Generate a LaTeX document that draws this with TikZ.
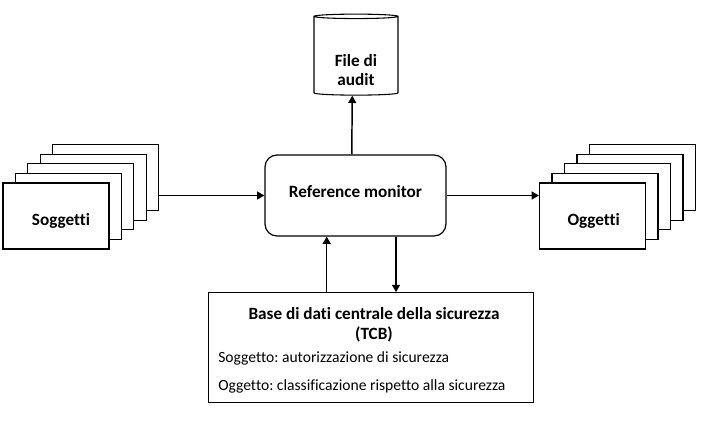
\documentclass[tikz,border=0pt]{standalone}
\usepackage{fontspec}
\setmainfont{Carlito}[Ligatures=NoCommon]
\frenchspacing
\usetikzlibrary{arrows.meta,shapes.geometric}

\tikzset{
  card/.style={draw, fill=white, line width=0.8pt, minimum width=79.5pt, minimum height=49.5pt},
  monitor/.style={draw, rounded corners=9pt, line width=0.9pt, minimum width=135.75pt, minimum height=60.75pt, font=\boldtext, text height=6pt, text depth=3.3pt},
  arrow/.style={line width=1.1pt, -{Triangle[length=5.5pt,width=6pt]}},
  boldrow/.style={anchor=base, inner sep=0pt, font=\boldtext},
  rowtext/.style={anchor=base west, inner sep=0pt, font=\fontsize{11.7}{14}\selectfont}
}
\newcommand{\boldtext}{\fontsize{12.9}{15}\selectfont\bfseries}

\begin{document}
\begin{tikzpicture}[x=0.75pt, y=-0.75pt]
\useasboundingbox (0,0) rectangle (708,421);

% stacks of subjects and objects
\foreach \i in {4,3,2,1,0} {
  \node[card] (sog\i) at ({56+12.4*\i}, {216-9.6*\i}) {};
  \node[card] (ogg\i) at ({592.5+12.5*\i}, {216-9.6*\i}) {};
}
\node[boldrow] (sogtext) at (61,225) {Soggetti};
\node[boldrow] (oggtext) at (593.7,225) {Oggetti};

\node[monitor] (refmon) at (355.5,195.5) {Reference monitor};

\node[cylinder, draw, line width=0.8pt, shape border rotate=90, aspect=0.5, minimum width=63pt, minimum height=60.75pt] (audit) at (356,56.5) {};
\node[boldrow] (audittop) at (356,66.7) {File di};
\node[boldrow] (auditbot) at (356,85) {audit};

% central security database
\node[draw, line width=0.9pt, minimum width=243.75pt, minimum height=82.5pt] (tcb) at (370.8,347.7) {};
\node[boldrow] (tcbtitle) at (374,319.3) {Base di dati centrale della sicurezza};
\node[boldrow] (tcbname) at (374,339.3) {(TCB)};
\node[rowtext] (subjrow) at (218,362.7) {Soggetto: autorizzazione di sicurezza};
\node[rowtext] (objrow) at (218,390.7) {Oggetto: classificazione rispetto alla sicurezza};

\draw[arrow] (refmon.west -| sog4.east) -- (refmon.west);
\draw[arrow] (refmon.east) -- (refmon.east -| ogg0.west);
\draw[arrow] ([xshift=-2.8pt]refmon.north) -- ([xshift=-2.8pt]audit.south);
\draw[arrow] ([xshift=-21.6pt]tcb.north -| refmon.south) -- ([xshift=-21.6pt]refmon.south);
\draw[arrow] ([xshift=30.4pt]refmon.south) -- ([xshift=30.4pt]tcb.north -| refmon.south);

\end{tikzpicture}
\end{document}
